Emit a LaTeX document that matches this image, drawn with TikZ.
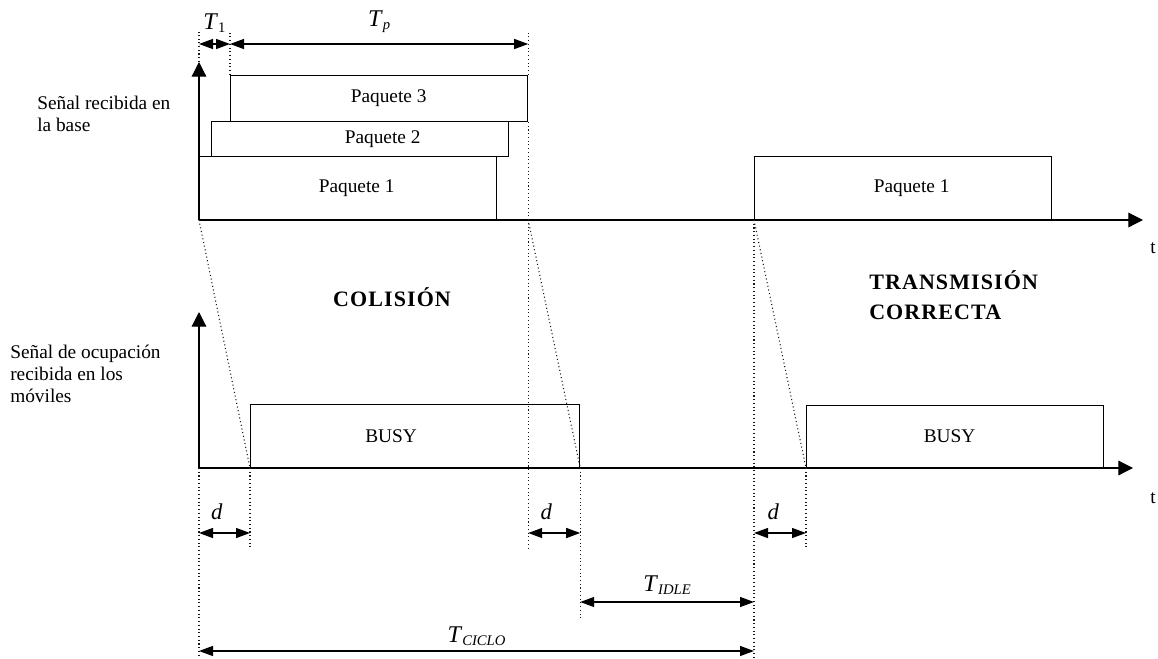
\documentclass[tikz,border=0pt]{standalone}
\usepackage{fontspec}
\setmainfont{Liberation Serif}
\newfontfamily\headfont[LetterSpace=5]{Liberation Serif}
\usetikzlibrary{arrows.meta,positioning,calc}

\newcommand{\tlbl}[1]{{\fontsize{18}{20}\selectfont\textit{T}}\raisebox{-0.35ex}{\fontsize{11}{12}\selectfont #1}}
\newcommand{\dlbl}{{\fontsize{17}{19}\selectfont\textit{d}}}

\begin{document}
\begin{tikzpicture}[
  x=0.75pt, y=-0.75pt,
  font=\fontsize{14.5}{16.5}\selectfont,
  pkt/.style={draw, line width=0.9pt, anchor=south west, minimum width=222.75pt, inner sep=0pt},
  axis/.style={line width=0.9pt, -{Triangle[length=11pt, width=11pt]}},
  dim/.style={line width=1pt, {Triangle[length=10.5pt, width=7.5pt]}-{Triangle[length=10.5pt, width=7.5pt]}},
  guide/.style={dotted, line width=0.8pt, black!90},
  lbl/.style={align=left, anchor=north west, inner sep=0pt},
  big/.style={font=\headfont\fontsize{16.5}{22.5}\selectfont\bfseries}
]
  \useasboundingbox (0,0) rectangle (1158,658);

  % levels used by guides and dimensions
  \coordinate (gtop) at (0,32);
  \coordinate (gd) at (0,548);
  \coordinate (gi) at (0,618);
  \coordinate (gb) at (0,658);
  \coordinate (dtop) at (0,44);
  \coordinate (dd) at (0,533);
  \coordinate (didle) at (0,602);
  \coordinate (dciclo) at (0,651);

  % base station signal
  \coordinate (o1) at (199,220);
  \coordinate (y1) at (199,62);
  \coordinate (x1) at (1143,220);
  \draw[axis] (o1) -- (y1);
  \draw[axis] (o1) -- (x1);
  \node (t1) at (1153,248) {t};

  \node[pkt, minimum height=47.25pt] (p1) at (199,220) {\hspace*{12.75pt}Paquete 1};
  \node[pkt, minimum height=26.25pt] (p2) at (211,157) {\hspace*{33.75pt}Paquete 2};
  \node[pkt, minimum height=34.5pt] (p3) at (230,122) {\hspace*{14.25pt}Paquete 3};
  \node[pkt, minimum height=47.25pt] (p4) at (754,220) {\hspace*{12.75pt}Paquete 1};

  \node[lbl] (sig1) at (37,96) {Señal recibida en\\la base};

  % busy signal at the mobiles
  \coordinate (o2) at (199,468);
  \coordinate (y2) at (199,312);
  \coordinate (x2) at (1133,468);
  \draw[axis] (o2) -- (y2);
  \draw[axis] (o2) -- (x2);
  \node (t2) at (1153,498) {t};

  \node[pkt, minimum width=246.75pt, minimum height=47.25pt] (b1) at (250,468) {BUSY\hspace*{36pt}};
  \node[pkt, minimum height=46.5pt] (b2) at (806,468) {BUSY\hspace*{8.25pt}};

  \node[lbl] (sig2) at (10,345) {Señal de ocupación\\recibida en los\\móviles};

  \node[big] (col) at (392,297) {COLISIÓN};
  \node[big, align=left, anchor=west, inner sep=0pt] (ok) at (869,295) {TRANSMISIÓN\\CORRECTA};

  % guides
  \draw[guide] (y1) -- (y1 |- gtop);
  \draw[guide] (p3.north west) -- (p3.north west |- gtop);
  \draw[guide] (p3.north east) -- (p3.north east |- gtop);
  \draw[guide] (p3.south east) -- (p3.south east |- gd);
  \draw[guide] (p1.south west) -- (b1.south west);
  \draw[guide] (p3.south east |- o1) -- (b1.south east);
  \draw[guide] (p4.south west) -- (b2.south west);
  \draw[guide] (o2) -- (o2 |- gb);
  \draw[guide] (b1.south west) -- (b1.south west |- gd);
  \draw[guide] (b1.south east) -- (b1.south east |- gi);
  \draw[guide] (p4.south west) -- (p4.south west |- gb);
  \draw[guide] (b2.south west) -- (b2.south west |- gd);

  % dimensions
  \draw[dim] (y1 |- dtop) -- (p3.north west |- dtop) node[midway, above, yshift=4.5pt] {\tlbl{1}};
  \draw[dim] (p3.north west |- dtop) -- (p3.north east |- dtop) node[midway, above, yshift=4.5pt] {\tlbl{\textit{p}}};
  \draw[dim] (o2 |- dd) -- (b1.south west |- dd) node[pos=0.35, above, yshift=6pt] {\dlbl};
  \draw[dim] (p3.south east |- dd) -- (b1.south east |- dd) node[pos=0.35, above, yshift=6pt] {\dlbl};
  \draw[dim] (p4.south west |- dd) -- (b2.south west |- dd) node[pos=0.37, above, yshift=6pt] {\dlbl};
  \draw[dim] (b1.south east |- didle) -- (p4.south west |- didle) node[midway, above, yshift=2pt] {\tlbl{\textit{IDLE}}};
  \draw[dim] (o2 |- dciclo) -- (p4.south west |- dciclo) node[midway, above] {\tlbl{\textit{CICLO}}};
\end{tikzpicture}
\end{document}
